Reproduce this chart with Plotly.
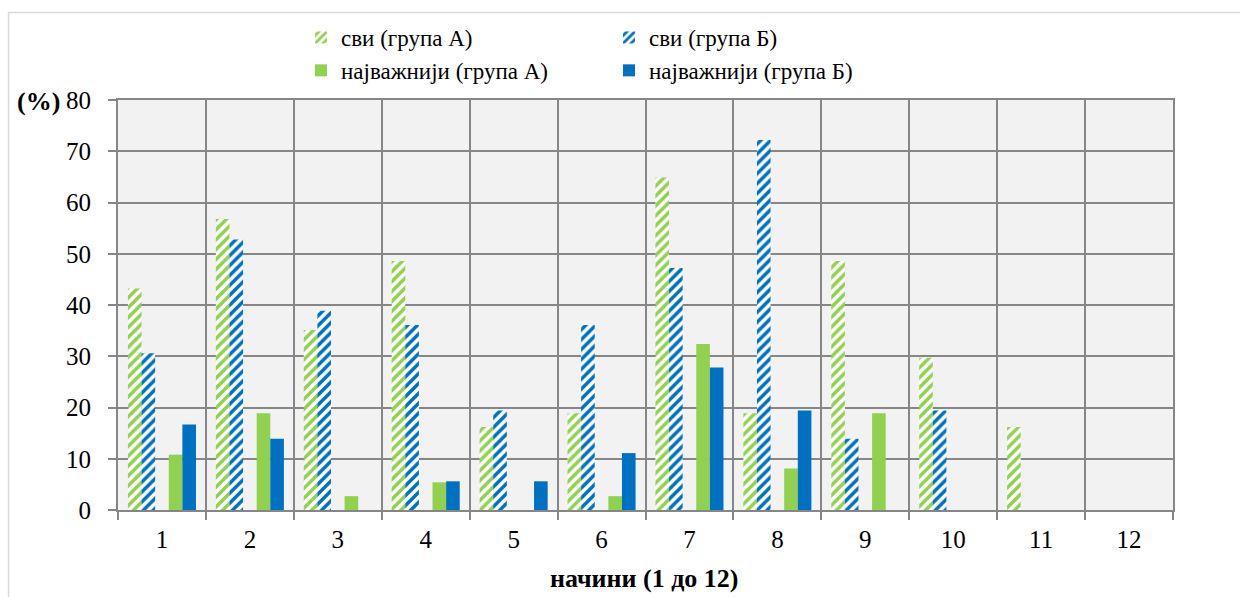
import plotly.graph_objects as go

categories = ["1", "2", "3", "4", "5", "6", "7", "8", "9", "10", "11", "12"]
svi_a = [43.2, 56.8, 35.1, 48.6, 16.2, 18.9, 64.9, 18.9, 48.6, 29.7, 16.2, 0]
svi_b = [30.6, 52.8, 38.9, 36.1, 19.4, 36.1, 47.2, 72.2, 13.9, 19.4, 0, 0]
naj_a = [10.8, 18.9, 2.7, 5.4, 0, 2.7, 32.4, 8.1, 18.9, 0, 0, 0]
naj_b = [16.7, 13.9, 0, 5.6, 5.6, 11.1, 27.8, 19.4, 0, 0, 0, 0]
y_ticks = [0, 10, 20, 30, 40, 50, 60, 70, 80]

GREEN = "#92d050"
BLUE = "#0070c0"
FONT = "Liberation Serif"
FS_LEG = 23
FS_TICK = 25
FS_TITLE = 26

fig = go.Figure()
fig.add_trace(go.Bar(
    x=categories, y=svi_a, name="сви (група А)", legend="legend",
    marker=dict(color="white", line=dict(width=0),
                pattern=dict(shape="/", fgcolor=GREEN, bgcolor="white", size=7,
                             solidity=0.5, fgopacity=1)),
))
fig.add_trace(go.Bar(
    x=categories, y=svi_b, name="сви (група Б)", legend="legend2",
    marker=dict(color="white", line=dict(width=0),
                pattern=dict(shape="/", fgcolor=BLUE, bgcolor="white", size=7,
                             solidity=0.5, fgopacity=1)),
))
fig.add_trace(go.Bar(
    x=categories, y=[None] * len(categories), showlegend=False, hoverinfo="skip",
))
fig.add_trace(go.Bar(
    x=categories, y=naj_a, name="најважнији (група А)", legend="legend",
    marker=dict(color=GREEN, line=dict(width=0)),
))
fig.add_trace(go.Bar(
    x=categories, y=naj_b, name="најважнији (група Б)", legend="legend2",
    marker=dict(color=BLUE, line=dict(width=0)),
))

L, R, T, B = 118, 67, 100, 87
W, H = 1240, 597
pw, ph = W - L - R, H - T - B


def px(x):
    return (x - L) / pw


def py(y):
    return (H - B - y) / ph


def lg(xpos):
    return dict(
        x=px(xpos), y=py(16), orientation="v",
        font=dict(family=FONT, size=FS_LEG, color="black"),
        bgcolor="rgba(0,0,0,0)", xanchor="left", yanchor="top",
        itemwidth=30, tracegroupgap=0,
    )


fig.update_layout(
    width=W, height=H,
    margin=dict(l=L, r=R, t=T, b=B, pad=0),
    paper_bgcolor="white", plot_bgcolor="#f2f2f2",
    barmode="group", bargap=0.226, bargroupgap=0,
    font=dict(family=FONT, size=FS_LEG, color="black"),
    showlegend=True,
    legend=lg(301),
    legend2=lg(609),
    xaxis=dict(
        type="category", tickson="boundaries", ticks="outside", ticklen=8,
        tickcolor="#868686", tickwidth=2, ticklabelstandoff=6,
        showgrid=True, gridcolor="#868686", gridwidth=2,
        showline=True, linecolor="#868686", linewidth=2, mirror=True,
        tickfont=dict(family=FONT, size=FS_TICK, color="black"),
    ),
    yaxis=dict(
        range=[0, 80], tickvals=y_ticks, ticks="outside", ticklen=8,
        tickcolor="#868686", tickwidth=2, ticklabelstandoff=12,
        showgrid=True, gridcolor="#868686", gridwidth=2,
        showline=True, linecolor="#868686", linewidth=2, mirror=True,
        zeroline=False,
        tickfont=dict(family=FONT, size=FS_TICK, color="black"),
    ),
    annotations=[
        dict(text="<b>(%)</b>", xref="paper", yref="paper", x=px(38), y=py(101),
             xanchor="center", yanchor="middle", showarrow=False,
             font=dict(family=FONT, size=FS_TITLE, color="black")),
        dict(text="<b>начини (1 до 12)</b>", xref="paper", yref="paper", x=px(644), y=py(578),
             xanchor="center", yanchor="middle", showarrow=False,
             font=dict(family=FONT, size=FS_TITLE, color="black")),
    ],
    shapes=[
        dict(type="line", xref="paper", yref="paper", x0=px(8), x1=px(1240), y0=py(12.5), y1=py(12.5),
             line=dict(color="#d9d9d9", width=1.5)),
        dict(type="line", xref="paper", yref="paper", x0=px(8.5), x1=px(8.5), y0=py(12), y1=py(597),
             line=dict(color="#d9d9d9", width=1.5)),
    ],
)

fig.write_html("out.html")
